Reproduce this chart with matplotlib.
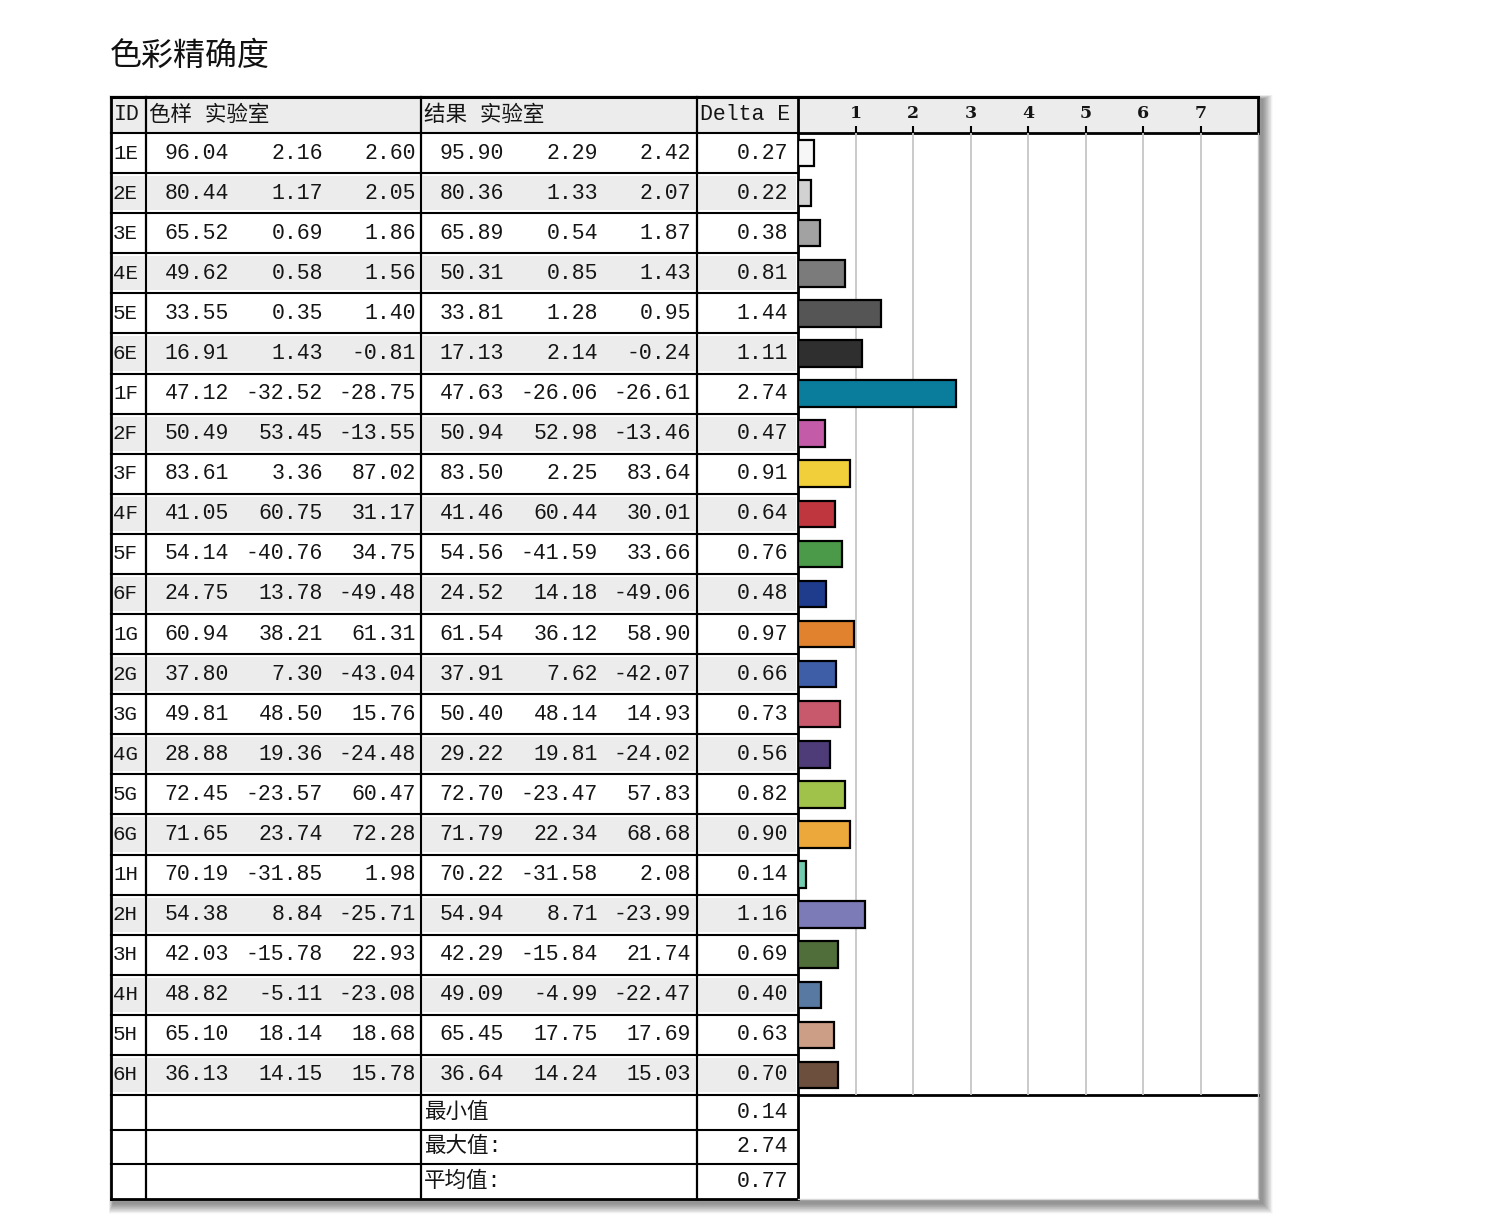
import matplotlib
matplotlib.use("Agg")
import matplotlib.pyplot as plt
from matplotlib.patches import Rectangle
import numpy as np

# patch ids and Lab values (sample / measured) plus Delta E
ids = ['1E', '2E', '3E', '4E', '5E', '6E', '1F', '2F', '3F', '4F', '5F', '6F',
       '1G', '2G', '3G', '4G', '5G', '6G', '1H', '2H', '3H', '4H', '5H', '6H']
sample_L = [96.04, 80.44, 65.52, 49.62, 33.55, 16.91, 47.12, 50.49, 83.61, 41.05, 54.14, 24.75,
            60.94, 37.80, 49.81, 28.88, 72.45, 71.65, 70.19, 54.38, 42.03, 48.82, 65.10, 36.13]
sample_a = [2.16, 1.17, 0.69, 0.58, 0.35, 1.43, -32.52, 53.45, 3.36, 60.75, -40.76, 13.78,
            38.21, 7.30, 48.50, 19.36, -23.57, 23.74, -31.85, 8.84, -15.78, -5.11, 18.14, 14.15]
sample_b = [2.60, 2.05, 1.86, 1.56, 1.40, -0.81, -28.75, -13.55, 87.02, 31.17, 34.75, -49.48,
            61.31, -43.04, 15.76, -24.48, 60.47, 72.28, 1.98, -25.71, 22.93, -23.08, 18.68, 15.78]
result_L = [95.90, 80.36, 65.89, 50.31, 33.81, 17.13, 47.63, 50.94, 83.50, 41.46, 54.56, 24.52,
            61.54, 37.91, 50.40, 29.22, 72.70, 71.79, 70.22, 54.94, 42.29, 49.09, 65.45, 36.64]
result_a = [2.29, 1.33, 0.54, 0.85, 1.28, 2.14, -26.06, 52.98, 2.25, 60.44, -41.59, 14.18,
            36.12, 7.62, 48.14, 19.81, -23.47, 22.34, -31.58, 8.71, -15.84, -4.99, 17.75, 14.24]
result_b = [2.42, 2.07, 1.87, 1.43, 0.95, -0.24, -26.61, -13.46, 83.64, 30.01, 33.66, -49.06,
            58.90, -42.07, 14.93, -24.02, 57.83, 68.68, 2.08, -23.99, 21.74, -22.47, 17.69, 15.03]
delta_e = [0.27, 0.22, 0.38, 0.81, 1.44, 1.11, 2.74, 0.47, 0.91, 0.64, 0.76, 0.48,
           0.97, 0.66, 0.73, 0.56, 0.82, 0.90, 0.14, 1.16, 0.69, 0.40, 0.63, 0.70]
bar_colors = ['#f7f7f7', '#d2d2d2', '#a2a2a2', '#7b7b7b', '#555555', '#2f2f2f',
              '#0b7d9c', '#c45ba8', '#f0cf3a', '#c0363f', '#4b9a49', '#1f3c8c',
              '#e0822e', '#3f5ea8', '#c8586b', '#4e3c78', '#a0c24a', '#eca83a',
              '#72cdb0', '#7d7ab8', '#506e3a', '#5879a2', '#cc9e86', '#6d4f3e']
summary_labels = ['最小值', '最大值:', '平均值:']
summary_values = [min(delta_e), max(delta_e), np.mean(delta_e)]

W, H = 1500, 1218
L, C1, C2, C3, C4, R = 111, 146, 421, 697, 798, 1258
TOP, HB, RB, BOT = 97, 133, 1095, 1199
n = len(ids)
rh = (RB - HB) / n
sh = (BOT - RB) / 3

mono = ['Liberation Mono', 'Noto Sans CJK SC']
fs = 15.5
tc = '#151515'
grey = '#ececec'

fig = plt.figure(figsize=(W / 100, H / 100), dpi=100)
ax = fig.add_axes([0, 0, 1, 1])
ax.set_xlim(0, W)
ax.set_ylim(H, 0)
ax.axis('off')

fig.text(110 / W, 1 - 56 / H, '色彩精确度', fontsize=23, family=['Noto Sans CJK SC'],
         va='center', ha='left', color='#111111')

# soft drop shadow
for d in range(24):
    g = d * 0.6
    ax.add_patch(Rectangle((L + 2 - g * 0.3, TOP + 2 - g * 0.3), R - L + 3 + g, BOT - TOP + 3 + g,
                           facecolor='black', alpha=0.018, lw=0, zorder=0))
ax.add_patch(Rectangle((L, TOP), R - L, BOT - TOP, facecolor='white', lw=0, zorder=1))

# header
ax.add_patch(Rectangle((L, TOP), R - L, HB - TOP, facecolor=grey, lw=0, zorder=1))
hy = (TOP + HB) / 2
for x, s in [(L + 3, 'ID'), (C1 + 3, '色样 实验室'), (C2 + 3, '结果 实验室'), (C3 + 3, 'Delta E')]:
    ax.text(x, hy, s, fontsize=fs, family=mono, va='center', ha='left', color=tc, zorder=5)

# data rows
cols = [(229, sample_L), (323, sample_a), (416, sample_b),
        (504, result_L), (598, result_a), (691, result_b), (788, delta_e)]
for i in range(n):
    y0 = HB + i * rh
    yc = y0 + rh / 2
    if i % 2 == 1:
        for a, b in [(L, C1), (C1, C2), (C2, C3), (C3, C4)]:
            ax.add_patch(Rectangle((a + 2, y0 + 3), b - a - 4, rh - 6,
                                   facecolor=grey, lw=0, zorder=1))
    ax.text(L + 2, yc, ids[i], fontsize=fs - 0.5, family=mono, va='center', ha='left',
            color=tc, zorder=5)
    for x, vals in cols:
        ax.text(x, yc, f'{vals[i]:.2f}', fontsize=fs, family=mono, va='center', ha='right',
                color=tc, zorder=5)
    ax.plot([L, C4], [y0, y0], color='black', lw=1.5, zorder=4)

# summary rows
for k in range(3):
    y0 = RB + k * sh
    yc = y0 + sh / 2
    ax.text(C2 + 3, yc, summary_labels[k], fontsize=fs, family=mono, va='center', ha='left',
            color=tc, zorder=5)
    ax.text(788, yc, f'{summary_values[k]:.2f}', fontsize=fs, family=mono, va='center',
            ha='right', color=tc, zorder=5)
    ax.plot([L, C4], [y0, y0], color='black', lw=1.5, zorder=4)

# table frame
for x in [C1, C2, C3]:
    ax.plot([x, x], [TOP, BOT], color='black', lw=1.6, zorder=4)
ax.plot([L, L], [TOP, BOT], color='black', lw=2, zorder=4)
ax.plot([C4, C4], [TOP, BOT], color='black', lw=2, zorder=4)
ax.plot([L, C4], [BOT, BOT], color='black', lw=2, zorder=4)
ax.plot([L, R], [TOP, TOP], color='black', lw=2.2, zorder=4)
ax.plot([C4, R], [HB, HB], color='black', lw=2, zorder=4)
ax.plot([C4, R], [RB, RB], color='black', lw=2, zorder=4)
ax.plot([R, R], [TOP, HB], color='black', lw=2, zorder=4)
ax.plot([R, R], [HB, BOT], color='#c8c8c8', lw=1, zorder=4)
ax.plot([C4, R], [BOT, BOT], color='#d8d8d8', lw=1, zorder=4)

# bar chart of Delta E
bx = fig.add_axes([C4 / W, 1 - RB / H, (R - C4) / W, (RB - HB) / H])
bx.patch.set_alpha(0)
bx.barh(np.arange(n), delta_e, height=0.66, color=bar_colors, edgecolor='black',
        linewidth=1.6, zorder=3)
bx.set_xlim(0, 8)
bx.set_ylim(n - 0.5, -0.5)
bx.set_xticks(range(1, 8))
bx.set_xticklabels([str(v) for v in range(1, 8)], family='DejaVu Serif', fontsize=12.5,
                   fontweight='bold', color=tc)
bx.xaxis.tick_top()
bx.tick_params(axis='x', top=True, bottom=False, length=5, width=1.5, pad=3)
bx.set_yticks([])
bx.grid(axis='x', color='#c6c6c6', lw=1.3, zorder=1)
for s in bx.spines.values():
    s.set_visible(False)

fig.savefig('out.png', dpi=100, facecolor='white')
